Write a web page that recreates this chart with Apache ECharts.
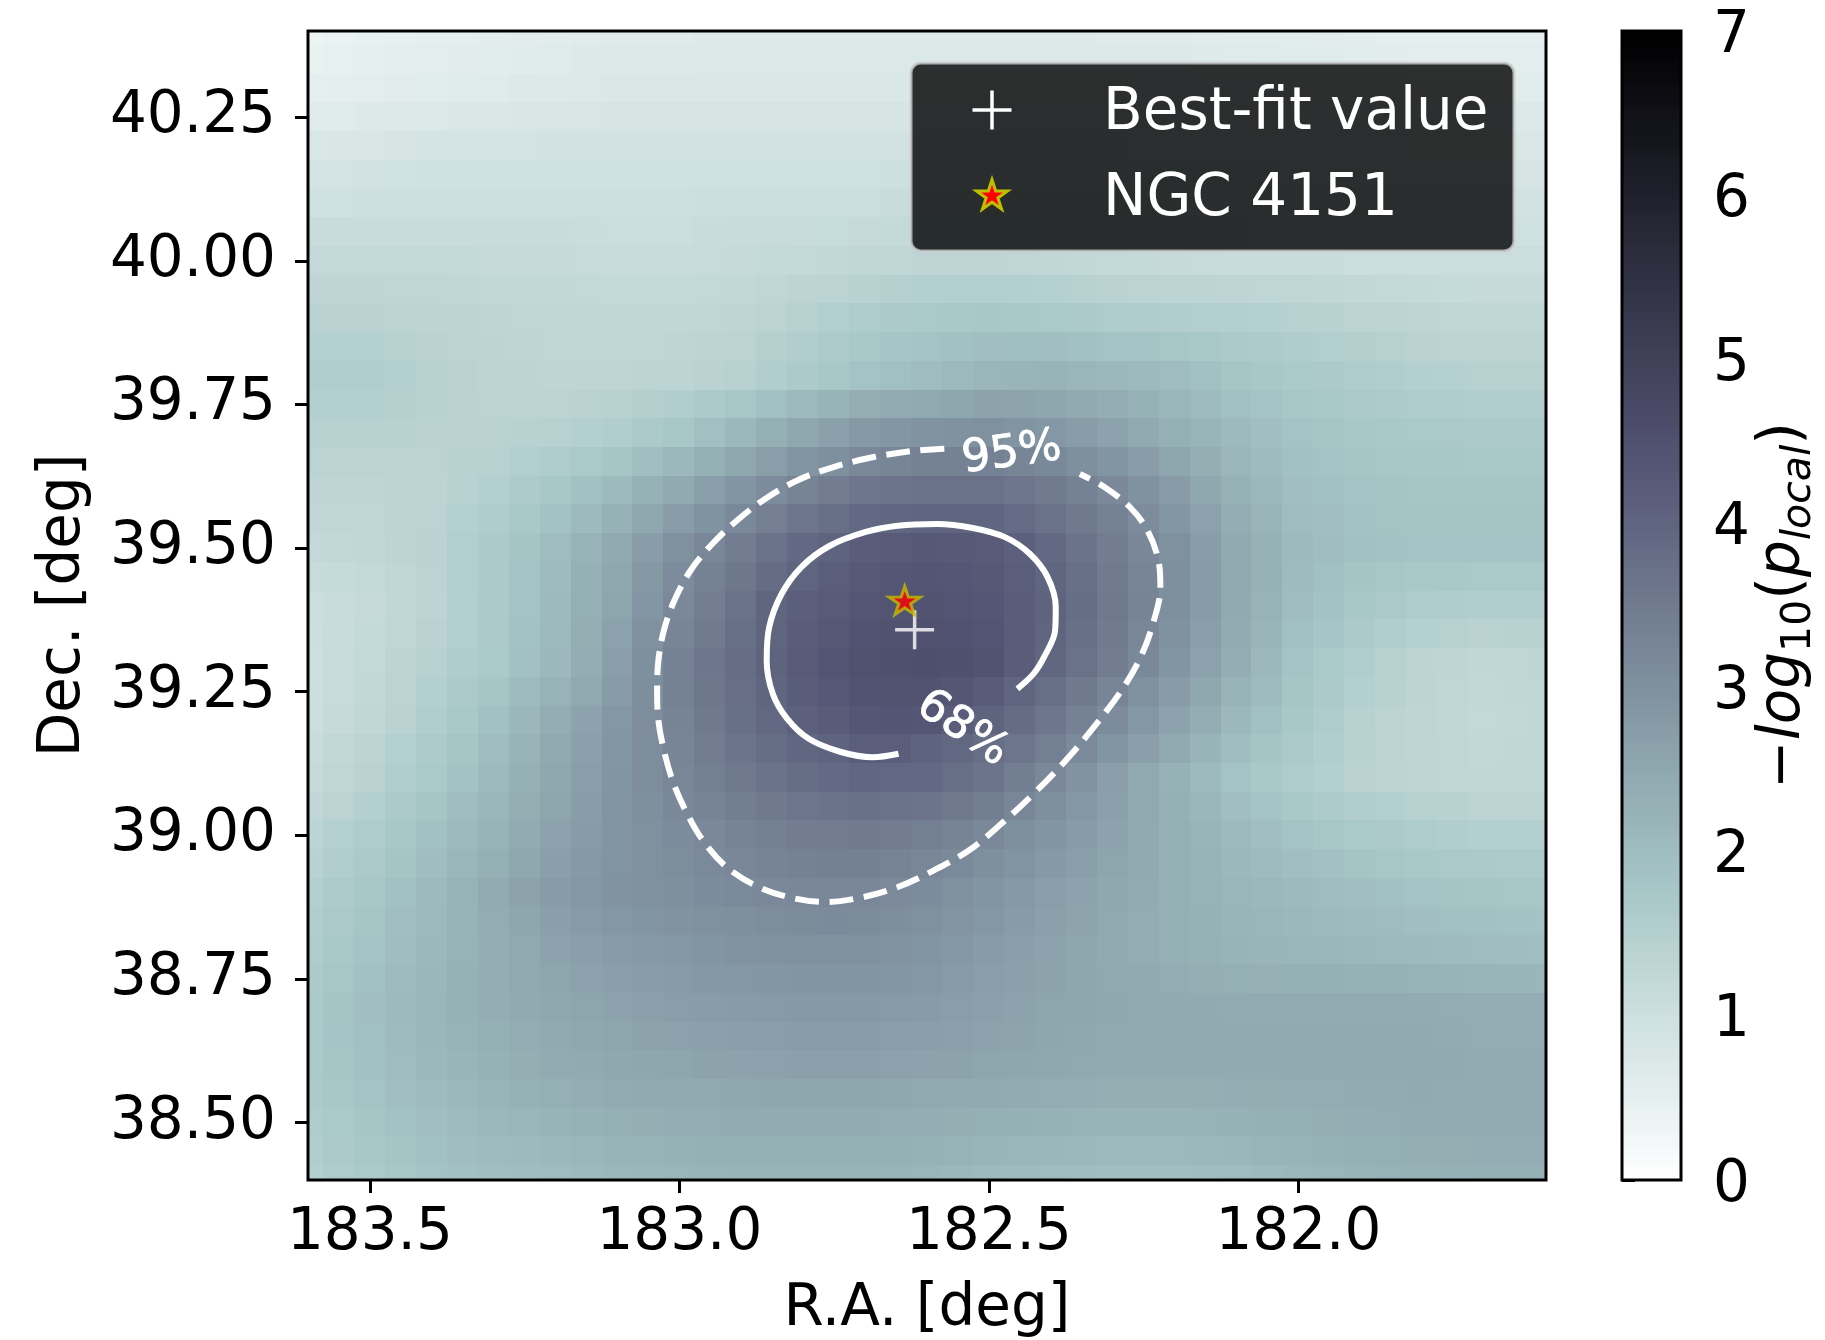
<!DOCTYPE html>
<html>
<head>
<meta charset="utf-8">
<title>NGC 4151 local significance map</title>
<script src="https://cdn.jsdelivr.net/npm/echarts@6/dist/echarts.min.js"></script>
<style>
  html, body { margin: 0; padding: 0; background: #fff; }
  #chart { width: 1825px; height: 1340px; }
</style>
</head>
<body>
<div id="chart"></div>
<script>
// ---- grid nodes (deg) ----
const raNodes = [183.6,183.55,183.5,183.45,183.4,183.35,183.3,183.25,183.2,183.15,183.1,183.05,
  183.0,182.95,182.9,182.85,182.8,182.75,182.7,182.65,182.6,182.55,182.5,182.45,182.4,182.35,
  182.3,182.25,182.2,182.15,182.1,182.05,182.0,181.95,181.9,181.85,181.8,181.75,181.7,181.65,181.6];
const decNodes = [40.4,40.35,40.3,40.25,40.2,40.15,40.1,40.05,40.0,39.95,39.9,39.85,39.8,39.75,
  39.7,39.65,39.6,39.55,39.5,39.45,39.4,39.35,39.3,39.25,39.2,39.15,39.1,39.05,39.0,38.95,38.9,
  38.85,38.8,38.75,38.7,38.65,38.6,38.55,38.5,38.45,38.4];

// ---- -log10(p_local) per node, one row per declination (top row = 40.4 deg) ----
const tsGrid = [
  [0.35,0.4,0.45,0.48,0.5,0.53,0.55,0.58,0.6,0.63,0.65,0.65,0.65,0.68,0.7,0.7,0.7,0.7,0.7,0.7,0.7,0.7,0.7,0.7,0.7,0.68,0.65,0.65,0.65,0.63,0.6,0.6,0.6,0.58,0.55,0.53,0.5,0.5,0.5,0.5,0.5],
  [0.43,0.47,0.5,0.53,0.55,0.58,0.6,0.63,0.65,0.68,0.7,0.7,0.7,0.72,0.73,0.73,0.73,0.73,0.73,0.73,0.73,0.73,0.73,0.73,0.73,0.72,0.7,0.69,0.68,0.67,0.65,0.64,0.63,0.62,0.6,0.58,0.55,0.55,0.55,0.55,0.55],
  [0.5,0.53,0.55,0.58,0.6,0.63,0.65,0.68,0.7,0.73,0.75,0.75,0.75,0.75,0.75,0.75,0.75,0.75,0.75,0.75,0.75,0.75,0.75,0.75,0.75,0.75,0.75,0.73,0.7,0.7,0.7,0.68,0.65,0.65,0.65,0.63,0.6,0.6,0.6,0.6,0.6],
  [0.63,0.65,0.68,0.7,0.73,0.74,0.75,0.78,0.8,0.81,0.83,0.83,0.83,0.83,0.83,0.83,0.83,0.83,0.83,0.83,0.83,0.83,0.83,0.83,0.83,0.83,0.83,0.8,0.78,0.78,0.78,0.75,0.73,0.73,0.73,0.7,0.68,0.68,0.68,0.68,0.68],
  [0.75,0.78,0.8,0.83,0.85,0.85,0.85,0.88,0.9,0.9,0.9,0.9,0.9,0.9,0.9,0.9,0.9,0.9,0.9,0.9,0.9,0.9,0.9,0.9,0.9,0.9,0.9,0.88,0.85,0.85,0.85,0.83,0.8,0.8,0.8,0.78,0.75,0.75,0.75,0.75,0.75],
  [0.85,0.88,0.9,0.92,0.93,0.93,0.93,0.94,0.95,0.95,0.95,0.95,0.95,0.97,0.98,0.98,0.98,0.98,0.98,0.99,1,1,1,0.99,0.98,0.98,0.98,0.96,0.93,0.93,0.93,0.9,0.88,0.88,0.88,0.85,0.83,0.83,0.83,0.83,0.83],
  [0.95,0.98,1,1,1,1,1,1,1,1,1,1,1,1.03,1.05,1.05,1.05,1.05,1.05,1.08,1.1,1.1,1.1,1.08,1.05,1.05,1.05,1.03,1,1,1,0.98,0.95,0.95,0.95,0.93,0.9,0.9,0.9,0.9,0.9],
  [1.08,1.09,1.1,1.1,1.1,1.09,1.08,1.08,1.08,1.07,1.05,1.05,1.05,1.08,1.1,1.12,1.13,1.14,1.15,1.18,1.2,1.2,1.2,1.18,1.15,1.14,1.13,1.1,1.08,1.07,1.05,1.04,1.03,1.01,1,0.99,0.98,0.98,0.98,0.98,0.98],
  [1.2,1.2,1.2,1.2,1.2,1.18,1.15,1.15,1.15,1.13,1.1,1.1,1.1,1.13,1.15,1.18,1.2,1.23,1.25,1.28,1.3,1.3,1.3,1.28,1.25,1.23,1.2,1.18,1.15,1.13,1.1,1.1,1.1,1.08,1.05,1.05,1.05,1.05,1.05,1.05,1.05],
  [1.3,1.3,1.3,1.29,1.28,1.26,1.23,1.22,1.22,1.2,1.18,1.18,1.18,1.21,1.23,1.28,1.33,1.38,1.43,1.47,1.5,1.52,1.53,1.5,1.48,1.44,1.4,1.38,1.35,1.33,1.3,1.29,1.28,1.25,1.22,1.2,1.18,1.17,1.15,1.15,1.15],
  [1.4,1.4,1.4,1.38,1.35,1.33,1.3,1.29,1.28,1.27,1.25,1.25,1.25,1.28,1.3,1.38,1.45,1.53,1.6,1.65,1.7,1.73,1.75,1.73,1.7,1.65,1.6,1.58,1.55,1.53,1.5,1.48,1.45,1.42,1.38,1.34,1.3,1.28,1.25,1.25,1.25],
  [1.48,1.48,1.48,1.44,1.4,1.37,1.33,1.31,1.29,1.29,1.28,1.29,1.3,1.34,1.38,1.47,1.55,1.64,1.73,1.79,1.85,1.91,1.95,1.96,1.95,1.9,1.85,1.82,1.78,1.72,1.65,1.62,1.58,1.54,1.49,1.45,1.4,1.38,1.35,1.35,1.35],
  [1.55,1.55,1.55,1.5,1.45,1.4,1.35,1.33,1.3,1.3,1.3,1.33,1.35,1.4,1.45,1.55,1.65,1.75,1.85,1.93,2.0,2.08,2.15,2.18,2.2,2.15,2.1,2.05,2.0,1.9,1.8,1.75,1.7,1.65,1.6,1.55,1.5,1.48,1.45,1.45,1.45],
  [1.5,1.5,1.5,1.47,1.43,1.4,1.38,1.38,1.38,1.4,1.43,1.49,1.55,1.66,1.78,1.93,2.08,2.2,2.33,2.41,2.48,2.53,2.58,2.56,2.53,2.44,2.35,2.25,2.15,2.04,1.93,1.85,1.78,1.73,1.68,1.64,1.6,1.58,1.55,1.55,1.55],
  [1.45,1.45,1.45,1.43,1.4,1.4,1.4,1.43,1.45,1.5,1.55,1.65,1.75,1.92,2.1,2.3,2.5,2.65,2.8,2.88,2.95,2.98,3.0,2.93,2.85,2.73,2.6,2.45,2.3,2.18,2.05,1.95,1.85,1.8,1.75,1.73,1.7,1.68,1.65,1.65,1.65],
  [1.38,1.38,1.38,1.38,1.38,1.42,1.45,1.53,1.6,1.7,1.8,1.95,2.1,2.3,2.5,2.7,2.9,3.05,3.2,3.27,3.33,3.34,3.35,3.27,3.18,3.04,2.9,2.72,2.53,2.34,2.15,2.03,1.9,1.85,1.8,1.78,1.75,1.74,1.73,1.73,1.73],
  [1.3,1.3,1.3,1.33,1.35,1.43,1.5,1.63,1.75,1.9,2.05,2.25,2.45,2.68,2.9,3.1,3.3,3.45,3.6,3.65,3.7,3.7,3.7,3.6,3.5,3.35,3.2,2.98,2.75,2.5,2.25,2.1,1.95,1.9,1.85,1.83,1.8,1.8,1.8,1.8,1.8],
  [1.25,1.27,1.28,1.33,1.38,1.48,1.58,1.73,1.88,2.07,2.25,2.49,2.73,2.96,3.18,3.39,3.6,3.75,3.9,3.95,4.0,3.99,3.98,3.85,3.7,3.52,3.33,3.1,2.88,2.62,2.35,2.18,2.0,1.94,1.88,1.86,1.83,1.83,1.83,1.83,1.83],
  [1.2,1.23,1.25,1.33,1.4,1.53,1.65,1.83,2.0,2.23,2.45,2.73,3.0,3.23,3.45,3.68,3.9,4.05,4.2,4.25,4.3,4.28,4.25,4.1,3.9,3.68,3.45,3.23,3.0,2.73,2.45,2.25,2.05,1.98,1.9,1.88,1.85,1.85,1.85,1.85,1.85],
  [1.13,1.17,1.2,1.29,1.38,1.52,1.65,1.84,2.03,2.27,2.5,2.81,3.1,3.33,3.57,3.83,4.01,4.15,4.28,4.34,4.38,4.34,4.3,4.15,3.98,3.74,3.5,3.27,3.03,2.74,2.45,2.24,2.03,1.93,1.83,1.78,1.73,1.72,1.7,1.7,1.7],
  [1.05,1.1,1.15,1.25,1.35,1.5,1.65,1.85,2.05,2.3,2.55,2.88,3.2,3.42,3.68,3.98,4.12,4.25,4.35,4.42,4.45,4.4,4.35,4.2,4.05,3.8,3.55,3.3,3.05,2.75,2.45,2.23,2.0,1.88,1.75,1.68,1.6,1.58,1.55,1.55,1.55],
  [1.03,1.1,1.18,1.29,1.4,1.54,1.68,1.88,2.08,2.33,2.63,2.97,3.28,3.51,3.75,4.0,4.19,4.33,4.43,4.48,4.5,4.46,4.4,4.2,4.0,3.75,3.5,3.24,2.98,2.69,2.4,2.17,1.93,1.79,1.65,1.57,1.48,1.44,1.4,1.42,1.43],
  [1.0,1.1,1.2,1.33,1.45,1.58,1.7,1.9,2.1,2.35,2.7,3.05,3.35,3.6,3.82,4.03,4.25,4.4,4.5,4.53,4.55,4.52,4.45,4.2,3.95,3.7,3.45,3.18,2.9,2.63,2.35,2.1,1.85,1.7,1.55,1.45,1.35,1.3,1.25,1.28,1.3],
  [1.03,1.13,1.23,1.37,1.5,1.66,1.8,2.02,2.23,2.48,2.78,3.07,3.33,3.57,3.79,3.98,4.18,4.32,4.43,4.45,4.45,4.36,4.25,4.02,3.78,3.53,3.28,3.02,2.75,2.49,2.23,2.02,1.8,1.65,1.5,1.42,1.33,1.28,1.23,1.26,1.28],
  [1.05,1.15,1.25,1.4,1.55,1.73,1.9,2.13,2.35,2.6,2.85,3.08,3.3,3.53,3.75,3.93,4.1,4.23,4.35,4.37,4.35,4.2,4.05,3.83,3.6,3.35,3.1,2.85,2.6,2.35,2.1,1.93,1.75,1.6,1.45,1.38,1.3,1.25,1.2,1.23,1.25],
  [1.1,1.22,1.33,1.48,1.63,1.8,1.98,2.2,2.43,2.65,2.88,3.08,3.28,3.47,3.65,3.8,3.95,4.05,4.15,4.15,4.03,3.92,3.78,3.63,3.4,3.15,2.9,2.67,2.43,2.2,1.98,1.83,1.68,1.55,1.43,1.37,1.3,1.27,1.23,1.24,1.25],
  [1.15,1.28,1.4,1.55,1.7,1.88,2.05,2.28,2.5,2.7,2.9,3.08,3.25,3.4,3.55,3.68,3.8,3.88,3.95,3.93,3.9,3.78,3.65,3.43,3.2,2.95,2.7,2.48,2.25,2.05,1.85,1.73,1.6,1.5,1.4,1.35,1.3,1.28,1.25,1.25,1.25],
  [1.25,1.38,1.5,1.65,1.8,1.97,2.13,2.34,2.55,2.73,2.9,3.04,3.18,3.3,3.43,3.53,3.63,3.68,3.73,3.69,3.65,3.54,3.43,3.24,3.05,2.85,2.65,2.47,2.28,2.12,1.95,1.84,1.73,1.64,1.55,1.5,1.45,1.42,1.38,1.38,1.38],
  [1.35,1.48,1.6,1.75,1.9,2.05,2.2,2.4,2.6,2.75,2.9,3.0,3.1,3.2,3.3,3.38,3.45,3.48,3.5,3.45,3.4,3.3,3.2,3.05,2.9,2.75,2.6,2.45,2.3,2.18,2.05,1.95,1.85,1.78,1.7,1.65,1.6,1.55,1.5,1.5,1.5],
  [1.43,1.56,1.68,1.83,1.98,2.14,2.3,2.49,2.68,2.8,2.93,3.0,3.08,3.15,3.23,3.29,3.34,3.36,3.36,3.31,3.25,3.15,3.05,2.93,2.8,2.68,2.55,2.43,2.3,2.21,2.1,2.03,1.95,1.89,1.83,1.78,1.73,1.69,1.65,1.64,1.63],
  [1.5,1.63,1.75,1.9,2.05,2.23,2.4,2.58,2.75,2.85,2.95,3.0,3.05,3.1,3.15,3.19,3.22,3.23,3.22,3.17,3.1,3.0,2.9,2.8,2.7,2.6,2.5,2.4,2.3,2.23,2.15,2.1,2.05,2.0,1.95,1.9,1.85,1.83,1.8,1.78,1.75],
  [1.55,1.68,1.8,1.94,2.08,2.23,2.38,2.53,2.68,2.77,2.85,2.9,2.95,3.0,3.05,3.09,3.11,3.12,3.11,3.06,3.0,2.92,2.83,2.74,2.65,2.57,2.48,2.39,2.3,2.24,2.18,2.14,2.1,2.07,2.03,1.99,1.95,1.93,1.9,1.88,1.85],
  [1.6,1.73,1.85,1.98,2.1,2.23,2.35,2.48,2.6,2.68,2.75,2.8,2.85,2.9,2.95,2.98,3.0,3.0,3.0,2.95,2.9,2.83,2.75,2.68,2.6,2.53,2.45,2.38,2.3,2.25,2.2,2.18,2.15,2.13,2.1,2.08,2.05,2.03,2.0,1.98,1.95],
  [1.65,1.78,1.9,2.02,2.13,2.24,2.35,2.46,2.55,2.62,2.68,2.73,2.78,2.82,2.85,2.88,2.9,2.9,2.9,2.87,2.83,2.77,2.7,2.64,2.58,2.53,2.48,2.43,2.38,2.34,2.3,2.29,2.28,2.27,2.25,2.24,2.23,2.2,2.18,2.17,2.15],
  [1.7,1.83,1.95,2.05,2.15,2.25,2.35,2.43,2.5,2.55,2.6,2.65,2.7,2.73,2.75,2.78,2.8,2.8,2.8,2.78,2.75,2.7,2.65,2.6,2.55,2.53,2.5,2.48,2.45,2.43,2.4,2.4,2.4,2.4,2.4,2.4,2.4,2.38,2.35,2.35,2.35],
  [1.7,1.82,1.93,2.03,2.13,2.22,2.3,2.38,2.45,2.5,2.55,2.59,2.63,2.66,2.68,2.71,2.73,2.73,2.73,2.71,2.68,2.64,2.6,2.57,2.53,2.5,2.48,2.47,2.45,2.44,2.43,2.43,2.43,2.43,2.43,2.43,2.43,2.4,2.38,2.38,2.38],
  [1.7,1.8,1.9,2.0,2.1,2.18,2.25,2.33,2.4,2.45,2.5,2.53,2.55,2.58,2.6,2.63,2.65,2.65,2.65,2.63,2.6,2.58,2.55,2.53,2.5,2.48,2.45,2.45,2.45,2.45,2.45,2.45,2.45,2.45,2.45,2.45,2.45,2.43,2.4,2.4,2.4],
  [1.65,1.75,1.85,1.94,2.03,2.1,2.18,2.24,2.3,2.35,2.4,2.43,2.45,2.48,2.5,2.52,2.53,2.53,2.53,2.5,2.48,2.45,2.43,2.4,2.38,2.35,2.33,2.33,2.33,2.34,2.35,2.36,2.38,2.39,2.4,2.41,2.43,2.41,2.4,2.4,2.4],
  [1.6,1.7,1.8,1.88,1.95,2.03,2.1,2.15,2.2,2.25,2.3,2.33,2.35,2.38,2.4,2.4,2.4,2.4,2.4,2.38,2.35,2.33,2.3,2.28,2.25,2.23,2.2,2.2,2.2,2.23,2.25,2.28,2.3,2.33,2.35,2.38,2.4,2.4,2.4,2.4,2.4],
  [1.55,1.65,1.75,1.83,1.9,1.97,2.03,2.07,2.1,2.15,2.2,2.23,2.25,2.28,2.3,2.3,2.3,2.3,2.3,2.28,2.25,2.22,2.18,2.16,2.13,2.1,2.08,2.08,2.08,2.1,2.13,2.17,2.2,2.24,2.28,2.3,2.33,2.34,2.35,2.35,2.35],
  [1.5,1.6,1.7,1.78,1.85,1.9,1.95,1.98,2.0,2.05,2.1,2.13,2.15,2.18,2.2,2.2,2.2,2.2,2.2,2.18,2.15,2.1,2.05,2.03,2.0,1.98,1.95,1.95,1.95,1.98,2.0,2.05,2.1,2.15,2.2,2.23,2.25,2.28,2.3,2.3,2.3]
];

// ---- confidence contours [RA, Dec] ----
const contour68 = [
  [182.646,39.142],[182.688,39.136],[182.739,39.145],[182.791,39.168],[182.826,39.203],[182.849,39.246],
  [182.859,39.304],[182.855,39.362],[182.835,39.420],[182.803,39.467],[182.757,39.504],[182.699,39.528],
  [182.647,39.539],[182.584,39.542],[182.526,39.535],[182.474,39.519],[182.434,39.490],[182.405,39.449],
  [182.392,39.397],[182.393,39.357],[182.411,39.310],[182.428,39.281],[182.454,39.255]
];
const contour95 = [
  [182.572,39.673],[182.624,39.669],[182.688,39.658],[182.751,39.641],[182.809,39.618],[182.861,39.586],
  [182.907,39.548],[182.947,39.507],[182.982,39.461],[183.008,39.409],[183.025,39.357],[183.034,39.304],
  [183.036,39.252],[183.034,39.200],[183.025,39.148],[183.011,39.095],[182.990,39.043],[182.962,38.991],
  [182.924,38.945],[182.872,38.910],[182.814,38.890],[182.763,38.884],[182.705,38.892],[182.647,38.910],
  [182.589,38.939],[182.532,38.974],[182.480,39.020],[182.428,39.072],[182.376,39.130],[182.324,39.197],
  [182.284,39.255],[182.255,39.310],[182.235,39.368],[182.223,39.432],[182.226,39.478],[182.244,39.531],
  [182.272,39.571],[182.313,39.606],[182.353,39.629]
];
const contourLabelText = ['95%', '68%'];
const contourLabelPos = [[182.463, 39.664], [182.543, 39.185]];

// ---- markers ----
const bestFit = [[182.62, 39.358]];
const ngc4151 = [[182.636, 39.406]];

// ---- tick labels ----
const raTicks = [183.5, 183.0, 182.5, 182.0];
const decTicks = [38.5, 38.75, 39.0, 39.25, 39.5, 39.75, 40.0, 40.25];
const cbarTicks = [0, 1, 2, 3, 4, 5, 6, 7];

if (tsGrid.length !== decNodes.length) throw new Error('tsGrid rows: ' + tsGrid.length);
tsGrid.forEach((row, i) => {
  if (row.length !== raNodes.length) throw new Error('tsGrid row ' + i + ' has ' + row.length + ' values');
});

// ---- bone_r colour map (matplotlib "bone" segments, reversed) ----
const BONE = {
  r: [[0, 0], [0.746032, 0.652778], [1, 1]],
  g: [[0, 0], [0.365079, 0.319444], [0.746032, 0.777778], [1, 1]],
  b: [[0, 0], [0.365079, 0.444444], [1, 1]]
};
function segValue(seg, t) {
  for (let i = 1; i < seg.length; i++) {
    if (t <= seg[i][0]) {
      const [t0, v0] = seg[i - 1], [t1, v1] = seg[i];
      return v0 + (v1 - v0) * (t - t0) / (t1 - t0);
    }
  }
  return seg[seg.length - 1][1];
}
function boneR(frac) {
  const t = 1 - frac;
  const c = ['r', 'g', 'b'].map(k => Math.round(255 * segValue(BONE[k], t)));
  return 'rgb(' + c.join(',') + ')';
}
const cmapStops = [];
for (let k = 0; k <= 56; k++) cmapStops.push(boneR(k / 56));

const FONT = 'DejaVu Sans';
const cellData = [];
decNodes.forEach((dec, r) => raNodes.forEach((ra, c) => cellData.push([ra, dec, tsGrid[r][c]])));
const halfRa = (raNodes[0] - raNodes[1]) / 2;
const halfDec = (decNodes[0] - decNodes[1]) / 2;

const STAR_PATH = 'path://M100,0L122.45,69.1L195.11,69.1L136.33,111.8L158.78,180.9L100,138.2L41.22,180.9L63.67,111.8L4.89,69.1L77.55,69.1Z';
const PLUS_PATH = 'path://M0,50L100,50M50,0L50,100';

function starPoints(cx, cy, R) {
  const pts = [];
  for (let k = 0; k < 10; k++) {
    const r = k % 2 === 0 ? R : R * 0.381966;
    const a = Math.PI / 2 + k * Math.PI / 5;
    pts.push([cx + r * Math.cos(a), cy - r * Math.sin(a)]);
  }
  return pts;
}

const chart = echarts.init(document.getElementById('chart'), null, { renderer: 'canvas' });

const tickLabelStyle = { fontSize: 58, fontFamily: FONT, color: '#000' };
const tickStyle = { show: true, length: 13, lineStyle: { color: '#000', width: 3 } };

chart.setOption({
  animation: false,
  backgroundColor: '#fff',
  textStyle: { fontFamily: FONT },
  grid: [
    { left: 308, top: 31, width: 1238, height: 1149, outerBoundsMode: 'none', containLabel: false,
      show: true, borderColor: '#000', borderWidth: 3, backgroundColor: 'transparent', z: 10 },
    { left: 1622, top: 31, width: 59, height: 1149, outerBoundsMode: 'none', containLabel: false,
      show: true, borderColor: '#000', borderWidth: 3, backgroundColor: 'transparent', z: 10 }
  ],
  xAxis: [
    {
      type: 'value', gridIndex: 0, min: 181.6, max: 183.6, inverse: true,
      name: 'R.A. [deg]', nameLocation: 'middle', nameGap: 101,
      nameTextStyle: { fontSize: 58, fontFamily: FONT, color: '#000' },
      axisLine: { show: false },
      splitLine: { show: false },
      axisTick: Object.assign({ customValues: raTicks }, tickStyle),
      axisLabel: Object.assign({ margin: 25, customValues: raTicks, formatter: v => v.toFixed(1) }, tickLabelStyle)
    },
    { type: 'value', gridIndex: 1, min: 0, max: 1, show: false }
  ],
  yAxis: [
    {
      type: 'value', gridIndex: 0, min: 38.4, max: 40.4,
      name: 'Dec. [deg]', nameLocation: 'middle', nameGap: 215,
      nameTextStyle: { fontSize: 58, fontFamily: FONT, color: '#000' },
      axisLine: { show: false },
      splitLine: { show: false },
      axisTick: Object.assign({ customValues: decTicks }, tickStyle),
      axisLabel: Object.assign({ margin: 32, customValues: decTicks, formatter: v => v.toFixed(2) }, tickLabelStyle)
    },
    {
      type: 'value', gridIndex: 1, position: 'right', min: 0, max: 7,
      name: '{m|\u2212}{i|log}{s|10}{m|(}{i|p}{si|local}{m|)}',
      nameLocation: 'middle', nameGap: 66,
      nameTextStyle: {
        fontSize: 58, fontFamily: FONT, color: '#000',
        rich: {
          m: { fontSize: 58, fontFamily: FONT, color: '#000' },
          i: { fontSize: 58, fontFamily: FONT, color: '#000', fontStyle: 'italic' },
          s: { fontSize: 41, fontFamily: FONT, color: '#000', padding: [32, 0, 0, 0] },
          si: { fontSize: 41, fontFamily: FONT, color: '#000', fontStyle: 'italic', padding: [32, 0, 0, 0] }
        }
      },
      axisLine: { show: false },
      splitLine: { show: false },
      axisTick: Object.assign({ customValues: cbarTicks }, tickStyle),
      axisLabel: Object.assign({
        margin: 32, customValues: cbarTicks,
        formatter: v => '{n|' + v + '}',
        rich: { n: { fontSize: 58, fontFamily: FONT, color: '#000', padding: [11, 0, 0, 0] } }
      }, tickLabelStyle)
    }
  ],
  visualMap: {
    type: 'continuous', seriesIndex: 0, dimension: 2, min: 0, max: 7,
    calculable: false, hoverLink: false, orient: 'vertical',
    left: 1622, top: 31, itemWidth: 59, itemHeight: 1149, padding: 0,
    text: null, showLabel: false,
    inRange: { color: cmapStops }
  },
  series: [
    {
      type: 'custom', xAxisIndex: 0, yAxisIndex: 0, clip: true, silent: true, z: 1,
      data: cellData,
      renderItem: function (params, api) {
        const ra = api.value(0), dec = api.value(1);
        const a = api.coord([ra + halfRa, dec + halfDec]);
        const b = api.coord([ra - halfRa, dec - halfDec]);
        const x0 = Math.floor(Math.min(a[0], b[0])), x1 = Math.ceil(Math.max(a[0], b[0]));
        const y0 = Math.floor(Math.min(a[1], b[1])), y1 = Math.ceil(Math.max(a[1], b[1]));
        return {
          type: 'rect',
          shape: { x: x0, y: y0, width: x1 - x0, height: y1 - y0 },
          style: { fill: api.visual('color') }
        };
      }
    },
    {
      type: 'line', xAxisIndex: 0, yAxisIndex: 0, data: contour95, smooth: 0.35, showSymbol: false,
      silent: true, z: 3,
      lineStyle: { color: '#fff', width: 6, type: [24, 10.5], cap: 'butt' }
    },
    {
      type: 'line', xAxisIndex: 0, yAxisIndex: 0, data: contour68, smooth: 0.35, showSymbol: false,
      silent: true, z: 3,
      lineStyle: { color: '#fff', width: 6, type: 'solid', cap: 'butt' }
    },
    {
      type: 'scatter', xAxisIndex: 0, yAxisIndex: 0, data: bestFit, silent: true, z: 4,
      symbol: PLUS_PATH, symbolSize: 39, symbolKeepAspect: true,
      itemStyle: { color: 'transparent', borderColor: '#fff', borderWidth: 3.5 }
    },
    {
      type: 'scatter', xAxisIndex: 0, yAxisIndex: 0, data: ngc4151, silent: true, z: 5,
      symbol: STAR_PATH, symbolSize: [31, 29.5], symbolKeepAspect: true, symbolOffset: [0, -1.6],
      itemStyle: { color: '#ff0000', borderColor: '#bfbf00', borderWidth: 3 }
    },
    {
      type: 'scatter', xAxisIndex: 0, yAxisIndex: 0, silent: true, z: 4,
      symbolSize: 1, itemStyle: { color: '#ffffff', opacity: 1 },
      label: { show: true, position: 'inside', color: '#ffffff', opacity: 1, fontSize: 45, fontFamily: FONT,
        textBorderColor: '#ffffff', textBorderWidth: 0.8, textShadowBlur: 0, formatter: p => p.name },
      data: [
        { name: contourLabelText[0], value: contourLabelPos[0], label: { rotate: 8 } },
        { name: contourLabelText[1], value: contourLabelPos[1], label: { rotate: -34 } }
      ]
    }
  ],
  graphic: [
    {
      type: 'group', z: 100,
      children: [
        { type: 'rect', z: 100, shape: { x: 911, y: 63, width: 603, height: 188, r: 10 },
          style: { fill: 'rgba(0,0,0,0.8)', stroke: 'rgba(204,204,204,0.8)', lineWidth: 3 } },
        { type: 'line', z: 101, shape: { x1: 972.5, y1: 110, x2: 1011.5, y2: 110 },
          style: { stroke: '#fff', lineWidth: 3.5 } },
        { type: 'line', z: 101, shape: { x1: 992, y1: 90.5, x2: 992, y2: 129.5 },
          style: { stroke: '#fff', lineWidth: 3.5 } },
        { type: 'polygon', z: 101, shape: { points: starPoints(992, 196, 16.3) },
          style: { fill: '#ff0000', stroke: '#bfbf00', lineWidth: 3 } },
        { type: 'text', z: 101, x: 1103, y: 114,
          style: { text: 'Best-fit value', fill: '#fff', fontSize: 58, fontFamily: FONT,
            align: 'left', verticalAlign: 'middle' } },
        { type: 'text', z: 101, x: 1103, y: 200,
          style: { text: 'NGC 4151', fill: '#fff', fontSize: 58, fontFamily: FONT,
            align: 'left', verticalAlign: 'middle' } }
      ]
    }
  ]
});
</script>
</body>
</html>
